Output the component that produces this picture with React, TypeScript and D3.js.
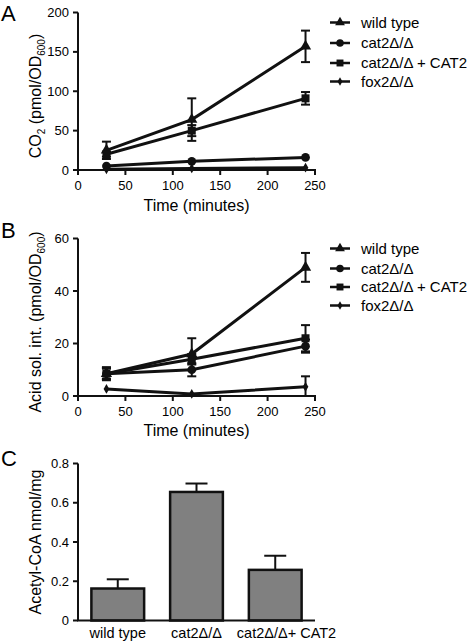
import React from "react";
import * as d3 from "d3";

const times = [30, 120, 240];
const seriesNames = ["wild type", "cat2Δ/Δ", "cat2Δ/Δ + CAT2", "fox2Δ/Δ"];
const symbolsBy = [d3.symbolTriangle, d3.symbolCircle, d3.symbolSquare, d3.symbolDiamond];
const symbolSizes = [55, 60, 64, 28];

// Panel A: CO2
const aWild = [25, 64, 157];
const aWildErr = [11, 27, 20];
const aCat2 = [5, 11, 16];
const aCat2Err = [0, 0, 0];
const aCat2Cat = [20, 50, 91];
const aCat2CatErr = [3, 7, 8];
const aFox2 = [1, 2, 3];
const aFox2Err = [0, 0, 0];
const aTicksY = [0, 50, 100, 150, 200];

// Panel B: acid soluble intermediates
const bWild = [8.5, 16, 49];
const bWildErr = [2.5, 6, 5.5];
const bCat2 = [8.5, 10, 19];
const bCat2Err = [2, 2.5, 2.5];
const bCat2Cat = [8.5, 14, 22];
const bCat2CatErr = [2, 2, 5];
const bFox2 = [2.7, 0.8, 3.5];
const bFox2Err = [0, 0, 4];
const bTicksY = [0, 20, 40, 60];

const xTicks = [0, 50, 100, 150, 200, 250];

// Panel C: acetyl-CoA
const cCategories = ["wild type", "cat2Δ/Δ", "cat2Δ/Δ+ CAT2"];
const cValues = [0.163, 0.655, 0.258];
const cErrors = [0.047, 0.043, 0.072];
const cTicksY = [0, 0.2, 0.4, 0.6, 0.8];

const FONT = "'Liberation Sans', Arial, Helvetica, sans-serif";
const X0 = 78;
const X1 = 315;

type Panel = {
  top: number;
  bottom: number;
  max: number;
  ticks: number[];
  values: number[][];
  errors: number[][];
  legendY: number[];
  tickLabelY: number;
  titleY: number;
  letter: string;
  letterY: number;
  yTitle: React.ReactNode;
  yTitleX: number;
  yTitleY: number;
};

function LinePanel({ p }: { p: Panel }) {
  const x = d3.scaleLinear().domain([0, 250]).range([X0, X1]);
  const y = d3.scaleLinear().domain([0, p.max]).range([p.bottom, p.top]);
  const line = d3
    .line<number>()
    .x((_, i) => x(times[i]))
    .y((v) => y(v));
  const cap = 4.5;
  return (
    <g>
      <text x={1} y={p.letterY} fontSize={22} fontFamily={FONT}>
        {p.letter}
      </text>
      {/* axes */}
      <line x1={X0} x2={X0} y1={p.top} y2={p.bottom} stroke="#111" strokeWidth={2} />
      <line x1={X0 - 1} x2={X1 + 1} y1={p.bottom} y2={p.bottom} stroke="#111" strokeWidth={2} />
      {p.ticks.map((t) => (
        <g key={"y" + t}>
          <line x1={X0 - 5} x2={X0} y1={y(t)} y2={y(t)} stroke="#111" strokeWidth={2} />
          <text x={X0 - 9} y={y(t)} dy="0.35em" textAnchor="end" fontSize={13} fontFamily={FONT}>
            {t}
          </text>
        </g>
      ))}
      {xTicks.map((t) => (
        <g key={"x" + t}>
          <line x1={x(t)} x2={x(t)} y1={p.bottom} y2={p.bottom + 5} stroke="#111" strokeWidth={2} />
          <text x={x(t)} y={p.tickLabelY} textAnchor="middle" fontSize={13} fontFamily={FONT}>
            {t}
          </text>
        </g>
      ))}
      <text x={(X0 + X1) / 2} y={p.titleY} textAnchor="middle" fontSize={16} fontFamily={FONT}>
        Time (minutes)
      </text>
      <text
        transform={`translate(${p.yTitleX},${p.yTitleY}) rotate(-90)`}
        textAnchor="middle"
        fontSize={16}
        fontFamily={FONT}
      >
        {p.yTitle}
      </text>
      {/* series */}
      {p.values.map((vals, si) => (
        <g key={"s" + si}>
          {vals.map((v, i) =>
            p.errors[si][i] > 0 ? (
              <g key={"e" + i} stroke="#111" strokeWidth={2}>
                <line x1={x(times[i])} x2={x(times[i])} y1={y(Math.max(0, v - p.errors[si][i]))} y2={y(v + p.errors[si][i])} />
                <line x1={x(times[i]) - cap} x2={x(times[i]) + cap} y1={y(v + p.errors[si][i])} y2={y(v + p.errors[si][i])} />
                {v - p.errors[si][i] > 0 && (
                  <line x1={x(times[i]) - cap} x2={x(times[i]) + cap} y1={y(v - p.errors[si][i])} y2={y(v - p.errors[si][i])} />
                )}
              </g>
            ) : null
          )}
          <path d={line(vals) || ""} fill="none" stroke="#111" strokeWidth={3} />
          {vals.map((v, i) => (
            <path
              key={"m" + i}
              d={d3.symbol().type(symbolsBy[si]).size(symbolSizes[si])() || ""}
              transform={`translate(${x(times[i])},${y(v)})`}
              fill="#111"
            />
          ))}
        </g>
      ))}
      {/* legend */}
      {seriesNames.map((n, i) => (
        <g key={"l" + i} transform={`translate(330,${p.legendY[i]})`}>
          <line x1={0} x2={20} y1={0} y2={0} stroke="#111" strokeWidth={2.5} />
          <path d={d3.symbol().type(symbolsBy[i]).size(symbolSizes[i] * 0.75)() || ""} transform="translate(10,0)" fill="#111" />
          <text x={31} y={0} dy="0.35em" fontSize={15} fontFamily={FONT}>
            {n}
          </text>
        </g>
      ))}
    </g>
  );
}

function BarPanel() {
  const top = 463.5;
  const bottom = 620.5;
  const x = d3.scaleBand<string>().domain(cCategories).range([X0, X1]).paddingInner(0.33).paddingOuter(0.17);
  const y = d3.scaleLinear().domain([0, 0.8]).range([bottom, top]);
  return (
    <g>
      <text x={1} y={466} fontSize={22} fontFamily={FONT}>
        C
      </text>
      {cCategories.map((c, i) => {
        const cx = (x(c) || 0) + x.bandwidth() / 2;
        const last = i === cCategories.length - 1;
        return (
          <g key={c}>
            <line x1={cx} x2={cx} y1={y(cValues[i])} y2={y(cValues[i] + cErrors[i])} stroke="#111" strokeWidth={2} />
            <line x1={cx - 11} x2={cx + 11} y1={y(cValues[i] + cErrors[i])} y2={y(cValues[i] + cErrors[i])} stroke="#111" strokeWidth={2} />
            <rect
              x={x(c)}
              y={y(cValues[i])}
              width={x.bandwidth()}
              height={bottom - y(cValues[i])}
              fill="#808080"
              stroke="#111"
              strokeWidth={2.5}
            />
            <text
              x={last ? (x(c) || 0) - 12 : cx}
              y={638}
              textAnchor={last ? "start" : "middle"}
              fontSize={14.5}
              fontFamily={FONT}
            >
              {c}
            </text>
          </g>
        );
      })}
      <line x1={X0} x2={X0} y1={top} y2={bottom} stroke="#111" strokeWidth={2} />
      <line x1={X0 - 1} x2={X1} y1={bottom} y2={bottom} stroke="#111" strokeWidth={2} />
      {cTicksY.map((t) => (
        <g key={"cy" + t}>
          <line x1={X0 - 5} x2={X0} y1={y(t)} y2={y(t)} stroke="#111" strokeWidth={2} />
          <text x={X0 - 9} y={y(t)} dy="0.35em" textAnchor="end" fontSize={13} fontFamily={FONT}>
            {t === 0 ? "0" : t.toFixed(1)}
          </text>
        </g>
      ))}
      <text transform={`translate(41,${(top + bottom) / 2}) rotate(-90)`} textAnchor="middle" fontSize={16} fontFamily={FONT}>
        Acetyl-CoA nmol/mg
      </text>
    </g>
  );
}

const sub = (t: string, key: string) => (
  <tspan key={key} fontSize={10} dy={4}>
    {t}
  </tspan>
);

export default function App() {
  const panelA: Panel = {
    top: 12.5,
    bottom: 170,
    max: 200,
    ticks: aTicksY,
    values: [aWild, aCat2, aCat2Cat, aFox2],
    errors: [aWildErr, aCat2Err, aCat2CatErr, aFox2Err],
    legendY: [22.5, 43, 63, 81.5],
    tickLabelY: 190,
    titleY: 211,
    letter: "A",
    letterY: 21,
    yTitle: [
      <tspan key="a">CO</tspan>,
      sub("2", "b"),
      <tspan key="c" dy={-4}> (pmol/OD</tspan>,
      sub("600", "d"),
      <tspan key="e" dy={-4}>)</tspan>,
    ],
    yTitleX: 41,
    yTitleY: 96,
  };
  const panelB: Panel = {
    top: 238.5,
    bottom: 396,
    max: 60,
    ticks: bTicksY,
    values: [bWild, bCat2, bCat2Cat, bFox2],
    errors: [bWildErr, bCat2Err, bCat2CatErr, bFox2Err],
    legendY: [248.5, 268.5, 287, 305.5],
    tickLabelY: 416,
    titleY: 436,
    letter: "B",
    letterY: 238,
    yTitle: [
      <tspan key="a">Acid sol. int. (pmol/OD</tspan>,
      sub("600", "d"),
      <tspan key="e" dy={-4}>)</tspan>,
    ],
    yTitleX: 41,
    yTitleY: 322,
  };
  return (
    <svg width={475} height={644} style={{ position: "absolute", left: 0, top: 0, background: "#fff" }}>
      <rect width={475} height={644} fill="#fff" />
      <LinePanel p={panelA} />
      <LinePanel p={panelB} />
      <BarPanel />
    </svg>
  );
}
